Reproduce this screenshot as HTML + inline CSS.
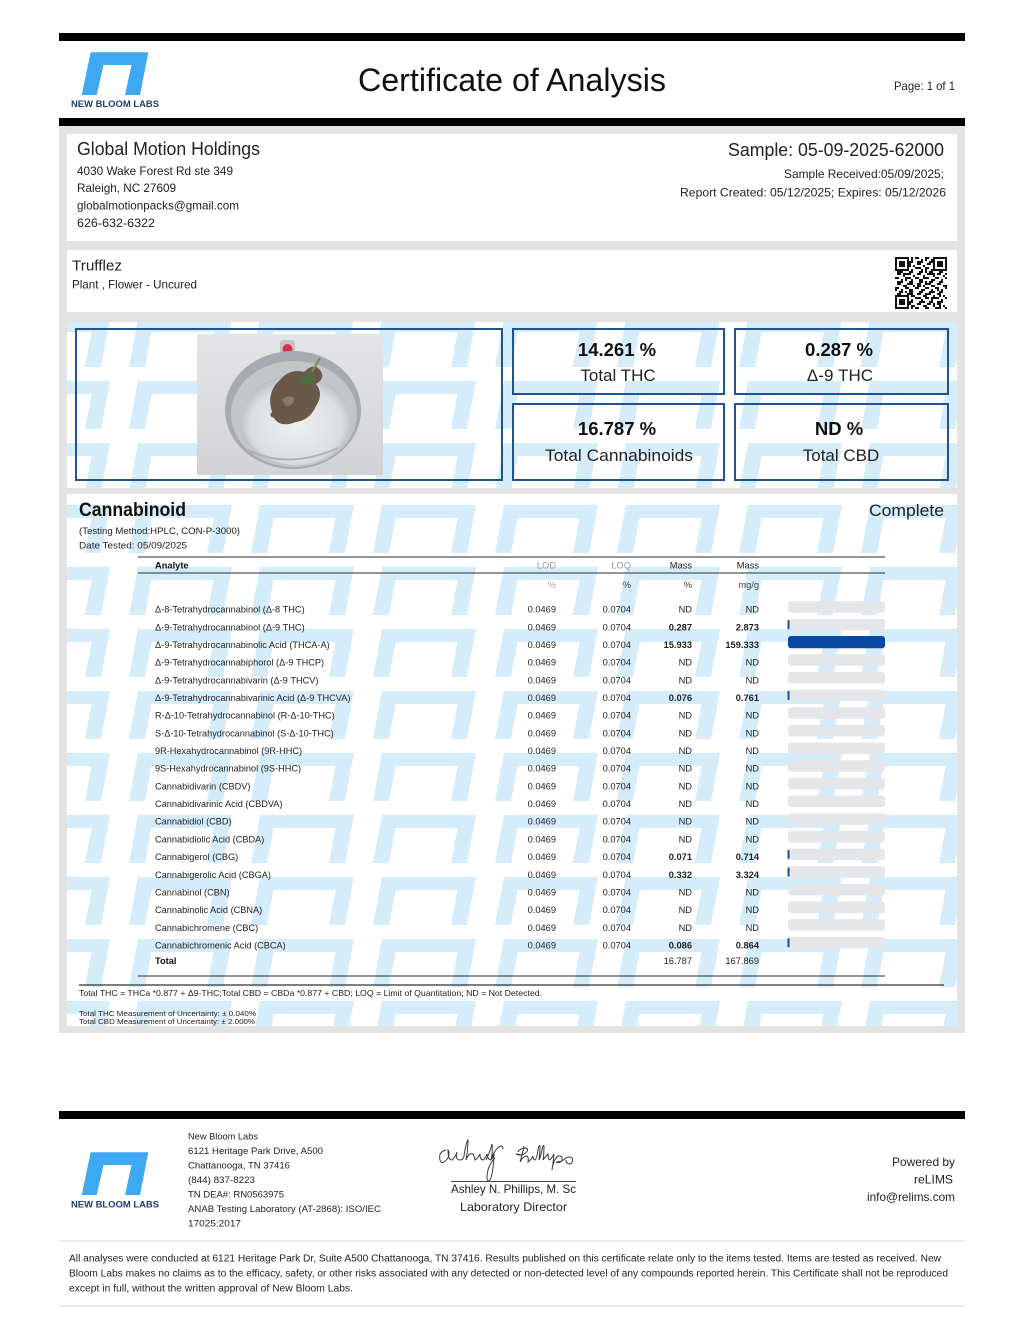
<!DOCTYPE html>
<html><head><meta charset="utf-8"><title>Certificate of Analysis</title>
<style>
html,body{margin:0;padding:0;background:#fff;}
svg{display:block;}
text{font-family:"Liberation Sans","DejaVu Sans",sans-serif;fill:#222;}
.b{font-weight:bold;}
.an{font-size:9.2px;fill:#222;}
.nm{font-size:9.3px;fill:#333;}
.bv{font-size:9.3px;font-weight:bold;fill:#111;}
</style></head>
<body>
<svg width="1024" height="1325" viewBox="0 0 1024 1325" xmlns="http://www.w3.org/2000/svg">
<defs>
<pattern id="pt" width="122" height="62" patternUnits="userSpaceOnUse" x="0" y="5">
<path d="M16 4 L110 4 L101 52 L85 52 L91.6 17 L29.6 17 L23 52 L7 52 Z" fill="#d5ecfa"/>
</pattern>
<pattern id="q1" width="10" height="10" patternUnits="userSpaceOnUse" x="895" y="257">
<rect x="0" y="0" width="4" height="2" fill="#111"/><rect x="6" y="2" width="2" height="4" fill="#111"/><rect x="2" y="6" width="4" height="2" fill="#111"/><rect x="8" y="8" width="2" height="2" fill="#111"/><rect x="4" y="4" width="2" height="2" fill="#111"/>
</pattern>
<pattern id="q2" width="14" height="12" patternUnits="userSpaceOnUse" x="895" y="257">
<rect x="2" y="0" width="2" height="4" fill="#111"/><rect x="8" y="4" width="4" height="2" fill="#111"/><rect x="0" y="8" width="2" height="2" fill="#111"/><rect x="10" y="10" width="2" height="2" fill="#111"/>
</pattern>
<linearGradient id="ph" x1="0" y1="0" x2="0" y2="1"><stop offset="0" stop-color="#e4e5e7"/><stop offset="1" stop-color="#d2d3d5"/></linearGradient>
<radialGradient id="pan" cx="0.5" cy="0.55" r="0.6"><stop offset="0" stop-color="#eef0f1"/><stop offset="0.7" stop-color="#dcdfe1"/><stop offset="1" stop-color="#a9adb1"/></radialGradient>
</defs>

<!-- header -->
<rect x="59" y="33" width="906" height="8" fill="#000"/>
<path d="M90.7 52.3 L148.3 52.3 L140 95 L125 95 L131.5 65 L103.5 65 L96.7 95 L81.7 95 Z" fill="#3ea8f2"/>
<text x="71" y="107" font-size="9.5" font-weight="bold" fill="#1d3d70" style="fill:#1d3d70" textLength="88" lengthAdjust="spacingAndGlyphs">NEW BLOOM LABS</text>
<text x="358" y="91" font-size="32" textLength="308" lengthAdjust="spacingAndGlyphs" style="fill:#111">Certificate of Analysis</text>
<text x="894" y="90" font-size="12" textLength="61" lengthAdjust="spacingAndGlyphs">Page: 1 of 1</text>
<rect x="59" y="118" width="906" height="8" fill="#000"/>

<!-- gray container -->
<rect x="59" y="126" width="906" height="907" fill="#e3e3e3"/>

<!-- card 1 -->
<rect x="67" y="134" width="890" height="107" fill="#fff"/>
<text x="77" y="155" font-size="18" textLength="183" lengthAdjust="spacingAndGlyphs">Global Motion Holdings</text>
<text x="77" y="175" font-size="12" textLength="156" lengthAdjust="spacingAndGlyphs">4030 Wake Forest Rd ste 349</text>
<text x="77" y="192" font-size="12" textLength="99" lengthAdjust="spacingAndGlyphs">Raleigh, NC 27609</text>
<text x="77" y="209.5" font-size="12" textLength="162" lengthAdjust="spacingAndGlyphs">globalmotionpacks@gmail.com</text>
<text x="77" y="227" font-size="12" textLength="78" lengthAdjust="spacingAndGlyphs">626-632-6322</text>
<text x="728" y="156" font-size="18" textLength="216" lengthAdjust="spacingAndGlyphs">Sample: 05-09-2025-62000</text>
<text x="784" y="178" font-size="12" textLength="160" lengthAdjust="spacingAndGlyphs">Sample Received:05/09/2025;</text>
<text x="680" y="196.5" font-size="12" textLength="266" lengthAdjust="spacingAndGlyphs">Report Created: 05/12/2025; Expires: 05/12/2026</text>

<!-- card 2 -->
<rect x="67" y="250" width="890" height="62" fill="#fff"/>
<text x="72" y="270.5" font-size="14.5" textLength="50" lengthAdjust="spacingAndGlyphs">Trufflez</text>
<text x="72" y="288.5" font-size="12" textLength="125" lengthAdjust="spacingAndGlyphs">Plant , Flower - Uncured</text>
<!-- QR -->
<rect x="893" y="255" width="56" height="56" fill="#fff"/>
<rect x="895" y="257" width="52" height="52" fill="url(#q1)"/>
<rect x="895" y="257" width="52" height="52" fill="url(#q2)"/>
<g fill="#111">
<rect x="895" y="257" width="14" height="14"/><rect x="933" y="257" width="14" height="14"/><rect x="895" y="295" width="14" height="14"/>
</g>
<g fill="#fff">
<rect x="897" y="259" width="10" height="10"/><rect x="935" y="259" width="10" height="10"/><rect x="897" y="297" width="10" height="10"/>
</g>
<g fill="#111">
<rect x="899" y="261" width="6" height="6"/><rect x="937" y="261" width="6" height="6"/><rect x="899" y="299" width="6" height="6"/>
</g>

<!-- card 3 -->
<rect x="67" y="322" width="890" height="166" fill="#fff"/>
<rect x="67" y="322" width="890" height="166" fill="url(#pt)"/>
<rect x="76" y="329" width="426" height="151" fill="none" stroke="#22528f" stroke-width="2"/>
<!-- photo -->
<rect x="197" y="334" width="186" height="141" fill="url(#ph)"/>
<rect x="280" y="340" width="15" height="18" rx="3" fill="#c4c5c7"/>
<circle cx="287.5" cy="349" r="5" fill="#e2304c"/>
<ellipse cx="293" cy="410" rx="68" ry="59" fill="#a7abaf"/>
<ellipse cx="294" cy="414" rx="63" ry="53" fill="#c3c6c9"/>
<ellipse cx="296" cy="420" rx="54" ry="45" fill="url(#pan)"/>
<path d="M272 412 q-6 -20 8 -32 q10 -12 24 -8 q10 -10 16 -2 q6 8 -4 14 q8 10 0 22 q-6 14 -20 16 q-16 6 -22 -4 q-6 -2 -2 -6 z" fill="#6a5848"/>
<path d="M298 380 q8 -8 16 -6 q4 4 -2 10 q-8 4 -14 -4 z" fill="#4e6b45"/>
<path d="M282 400 q6 -6 12 -2 q0 8 -8 8 z" fill="#8b7a66"/>
<path d="M312 372 l8 -14" stroke="#6d8f5a" stroke-width="2"/>
<path d="M248 450 q40 20 90 -2" stroke="#b0b3b6" stroke-width="2" fill="none"/>
<!-- summary boxes -->
<g fill="none" stroke="#22528f" stroke-width="2">
<rect x="513" y="329" width="211" height="65"/>
<rect x="735" y="329" width="213" height="65"/>
<rect x="513" y="404" width="211" height="76"/>
<rect x="735" y="404" width="213" height="76"/>
</g>
<g text-anchor="middle">
<text x="617" y="356" font-size="18.5" font-weight="bold" style="fill:#111">14.261 %</text>
<text x="618" y="381" font-size="17">Total THC</text>
<text x="839" y="356" font-size="18.5" font-weight="bold" style="fill:#111">0.287 %</text>
<text x="840" y="381" font-size="17">Δ-9 THC</text>
<text x="617" y="435" font-size="18.5" font-weight="bold" style="fill:#111">16.787 %</text>
<text x="619" y="461" font-size="17" textLength="148" lengthAdjust="spacingAndGlyphs">Total Cannabinoids</text>
<text x="839" y="435" font-size="18.5" font-weight="bold" style="fill:#111">ND %</text>
<text x="841" y="461" font-size="17">Total CBD</text>
</g>

<!-- card 4 -->
<rect x="67" y="494" width="890" height="532" fill="#fff"/>
<rect x="67" y="494" width="890" height="532" fill="url(#pt)"/>
<text x="79" y="516" font-size="19" font-weight="bold" textLength="107" lengthAdjust="spacingAndGlyphs" style="fill:#111">Cannabinoid</text>
<text x="869" y="516" font-size="17" textLength="75" lengthAdjust="spacingAndGlyphs">Complete</text>
<text x="79" y="534" font-size="9.5" textLength="161" lengthAdjust="spacingAndGlyphs">(Testing Method:HPLC, CON-P-3000)</text>
<text x="79" y="548.3" font-size="9.5" textLength="108" lengthAdjust="spacingAndGlyphs">Date Tested: 05/09/2025</text>

<line x1="138" y1="557" x2="885" y2="557" stroke="#555" stroke-width="1.2"/>
<line x1="138" y1="573" x2="885" y2="573" stroke="#555" stroke-width="1.2"/>
<text x="155" y="568.3" font-size="9.3" font-weight="bold" style="fill:#111">Analyte</text>
<g text-anchor="end" font-size="9.3">
<text x="556" y="568.3" style="fill:#9a9a9a">LOD</text>
<text x="631" y="568.3" style="fill:#9a9a9a">LOQ</text>
<text x="692" y="568.3" style="fill:#222">Mass</text>
<text x="759" y="568.3" style="fill:#222">Mass</text>
<text x="556" y="588" style="fill:#aaa">%</text>
<text x="631" y="588" style="fill:#444">%</text>
<text x="692" y="588" style="fill:#444">%</text>
<text x="759" y="588" style="fill:#444">mg/g</text>
</g>

<!-- bars -->
<g fill="#e4e6e9">
<rect x="788" y="601.2" width="97" height="11.5" rx="3"/>
<rect x="788" y="618.9" width="97" height="11.5" rx="3"/>
<rect x="788" y="636.5" width="97" height="11.5" rx="3"/>
<rect x="788" y="654.2" width="97" height="11.5" rx="3"/>
<rect x="788" y="671.9" width="97" height="11.5" rx="3"/>
<rect x="788" y="689.6" width="97" height="11.5" rx="3"/>
<rect x="788" y="707.2" width="97" height="11.5" rx="3"/>
<rect x="788" y="724.9" width="97" height="11.5" rx="3"/>
<rect x="788" y="742.6" width="97" height="11.5" rx="3"/>
<rect x="788" y="760.2" width="97" height="11.5" rx="3"/>
<rect x="788" y="777.9" width="97" height="11.5" rx="3"/>
<rect x="788" y="795.6" width="97" height="11.5" rx="3"/>
<rect x="788" y="813.2" width="97" height="11.5" rx="3"/>
<rect x="788" y="830.9" width="97" height="11.5" rx="3"/>
<rect x="788" y="848.6" width="97" height="11.5" rx="3"/>
<rect x="788" y="866.3" width="97" height="11.5" rx="3"/>
<rect x="788" y="883.9" width="97" height="11.5" rx="3"/>
<rect x="788" y="901.6" width="97" height="11.5" rx="3"/>
<rect x="788" y="919.3" width="97" height="11.5" rx="3"/>
<rect x="788" y="936.9" width="97" height="11.5" rx="3"/>
</g>
<rect x="788" y="636" width="97" height="12.3" rx="3" fill="#0a4aa6"/>
<g fill="#1a4f96">
<rect x="787.5" y="620" width="2" height="9.4" rx="1"/>
<rect x="787.5" y="690.7" width="2" height="9.4" rx="1"/>
<rect x="787.5" y="849.7" width="2" height="9.4" rx="1"/>
<rect x="787.5" y="867.4" width="2" height="9.4" rx="1"/>
<rect x="787.5" y="938" width="2" height="9.4" rx="1"/>
</g>

<!-- rows -->
<g class="an">
<text x="155" y="612.7">Δ-8-Tetrahydrocannabinol (Δ-8 THC)</text>
<text x="155" y="630.4">Δ-9-Tetrahydrocannabinol (Δ-9 THC)</text>
<text x="155" y="648.0">Δ-9-Tetrahydrocannabinolic Acid (THCA-A)</text>
<text x="155" y="665.7">Δ-9-Tetrahydrocannabiphorol (Δ-9 THCP)</text>
<text x="155" y="683.4">Δ-9-Tetrahydrocannabivarin (Δ-9 THCV)</text>
<text x="155" y="701.1">Δ-9-Tetrahydrocannabivarinic Acid (Δ-9 THCVA)</text>
<text x="155" y="718.7">R-Δ-10-Tetrahydrocannabinol (R-Δ-10-THC)</text>
<text x="155" y="736.4">S-Δ-10-Tetrahydrocannabinol (S-Δ-10-THC)</text>
<text x="155" y="754.1">9R-Hexahydrocannabinol (9R-HHC)</text>
<text x="155" y="771.7">9S-Hexahydrocannabinol (9S-HHC)</text>
<text x="155" y="789.4">Cannabidivarin (CBDV)</text>
<text x="155" y="807.1">Cannabidivarinic Acid (CBDVA)</text>
<text x="155" y="824.7">Cannabidiol (CBD)</text>
<text x="155" y="842.4">Cannabidiolic Acid (CBDA)</text>
<text x="155" y="860.1">Cannabigerol (CBG)</text>
<text x="155" y="877.8">Cannabigerolic Acid (CBGA)</text>
<text x="155" y="895.4">Cannabinol (CBN)</text>
<text x="155" y="913.1">Cannabinolic Acid (CBNA)</text>
<text x="155" y="930.8">Cannabichromene (CBC)</text>
<text x="155" y="948.4">Cannabichromenic Acid (CBCA)</text>
</g>
<text x="155" y="964" font-size="9.3" font-weight="bold" style="fill:#111">Total</text>

<g class="nm" text-anchor="end">
<text x="556" y="612.7">0.0469</text><text x="631" y="612.7">0.0704</text>
<text x="556" y="630.4">0.0469</text><text x="631" y="630.4">0.0704</text>
<text x="556" y="648.0">0.0469</text><text x="631" y="648.0">0.0704</text>
<text x="556" y="665.7">0.0469</text><text x="631" y="665.7">0.0704</text>
<text x="556" y="683.4">0.0469</text><text x="631" y="683.4">0.0704</text>
<text x="556" y="701.1">0.0469</text><text x="631" y="701.1">0.0704</text>
<text x="556" y="718.7">0.0469</text><text x="631" y="718.7">0.0704</text>
<text x="556" y="736.4">0.0469</text><text x="631" y="736.4">0.0704</text>
<text x="556" y="754.1">0.0469</text><text x="631" y="754.1">0.0704</text>
<text x="556" y="771.7">0.0469</text><text x="631" y="771.7">0.0704</text>
<text x="556" y="789.4">0.0469</text><text x="631" y="789.4">0.0704</text>
<text x="556" y="807.1">0.0469</text><text x="631" y="807.1">0.0704</text>
<text x="556" y="824.7">0.0469</text><text x="631" y="824.7">0.0704</text>
<text x="556" y="842.4">0.0469</text><text x="631" y="842.4">0.0704</text>
<text x="556" y="860.1">0.0469</text><text x="631" y="860.1">0.0704</text>
<text x="556" y="877.8">0.0469</text><text x="631" y="877.8">0.0704</text>
<text x="556" y="895.4">0.0469</text><text x="631" y="895.4">0.0704</text>
<text x="556" y="913.1">0.0469</text><text x="631" y="913.1">0.0704</text>
<text x="556" y="930.8">0.0469</text><text x="631" y="930.8">0.0704</text>
<text x="556" y="948.4">0.0469</text><text x="631" y="948.4">0.0704</text>
<text x="692" y="612.7">ND</text><text x="759" y="612.7">ND</text>
<text x="692" y="665.7">ND</text><text x="759" y="665.7">ND</text>
<text x="692" y="683.4">ND</text><text x="759" y="683.4">ND</text>
<text x="692" y="718.7">ND</text><text x="759" y="718.7">ND</text>
<text x="692" y="736.4">ND</text><text x="759" y="736.4">ND</text>
<text x="692" y="754.1">ND</text><text x="759" y="754.1">ND</text>
<text x="692" y="771.7">ND</text><text x="759" y="771.7">ND</text>
<text x="692" y="789.4">ND</text><text x="759" y="789.4">ND</text>
<text x="692" y="807.1">ND</text><text x="759" y="807.1">ND</text>
<text x="692" y="824.7">ND</text><text x="759" y="824.7">ND</text>
<text x="692" y="842.4">ND</text><text x="759" y="842.4">ND</text>
<text x="692" y="895.4">ND</text><text x="759" y="895.4">ND</text>
<text x="692" y="913.1">ND</text><text x="759" y="913.1">ND</text>
<text x="692" y="930.8">ND</text><text x="759" y="930.8">ND</text>
<text x="692" y="964">16.787</text><text x="759" y="964">167.869</text>
</g>
<g class="bv" text-anchor="end">
<text x="692" y="630.4">0.287</text><text x="759" y="630.4">2.873</text>
<text x="692" y="648.0">15.933</text><text x="759" y="648.0">159.333</text>
<text x="692" y="701.1">0.076</text><text x="759" y="701.1">0.761</text>
<text x="692" y="860.1">0.071</text><text x="759" y="860.1">0.714</text>
<text x="692" y="877.8">0.332</text><text x="759" y="877.8">3.324</text>
<text x="692" y="948.4">0.086</text><text x="759" y="948.4">0.864</text>
</g>

<line x1="138" y1="976" x2="885" y2="976" stroke="#555" stroke-width="1.2"/>
<line x1="79" y1="985" x2="944" y2="985" stroke="#333" stroke-width="1.2"/>
<text x="79" y="996" font-size="8.5" textLength="463" lengthAdjust="spacingAndGlyphs">Total THC = THCa *0.877 + Δ9-THC;Total CBD = CBDa *0.877 + CBD; LOQ = Limit of Quantitation; ND = Not Detected.</text>
<text x="79" y="1016" font-size="7.4" textLength="177" lengthAdjust="spacingAndGlyphs">Total THC Measurement of Uncertainty: ± 0.040%</text>
<text x="79" y="1024" font-size="7.4" textLength="176" lengthAdjust="spacingAndGlyphs">Total CBD Measurement of Uncertainty: ± 2.000%</text>

<!-- footer -->
<rect x="59" y="1111" width="906" height="8" fill="#000"/>
<path d="M90.7 1152.3 L148.3 1152.3 L140 1195 L125 1195 L131.5 1165 L103.5 1165 L96.7 1195 L81.7 1195 Z" fill="#3ea8f2"/>
<text x="71" y="1207.5" font-size="9.5" font-weight="bold" style="fill:#1d3d70" textLength="88" lengthAdjust="spacingAndGlyphs">NEW BLOOM LABS</text>
<g font-size="9.6">
<text x="188" y="1139.5" textLength="70" lengthAdjust="spacingAndGlyphs">New Bloom Labs</text>
<text x="188" y="1154" textLength="135" lengthAdjust="spacingAndGlyphs">6121 Heritage Park Drive, A500</text>
<text x="188" y="1168.5" textLength="102" lengthAdjust="spacingAndGlyphs">Chattanooga, TN 37416</text>
<text x="188" y="1183" textLength="67" lengthAdjust="spacingAndGlyphs">(844) 837-8223</text>
<text x="188" y="1197.5" textLength="96" lengthAdjust="spacingAndGlyphs">TN DEA#: RN0563975</text>
<text x="188" y="1212" textLength="193" lengthAdjust="spacingAndGlyphs">ANAB Testing Laboratory (AT-2868): ISO/IEC</text>
<text x="188" y="1226.5" textLength="53" lengthAdjust="spacingAndGlyphs">17025:2017</text>
</g>
<path d="M446 1150 q-8 2 -6 10 q2 6 8 -2 q2 -6 0 -8 q0 10 4 10 q3 -2 5 -8 q-2 8 3 8 q3 0 4 -4 q2 -14 4 -16 q0 10 -2 20 q3 -8 7 -6 q2 4 2 6 q3 -2 5 -6 q0 6 3 6 q3 -2 4 -6 q1 6 4 6 q2 -2 3 -6 q0 12 -3 24 q-3 6 -4 0 q0 -12 8 -20 M486 1160 q4 -8 6 -16 q1 8 -1 16 q4 -12 10 -14 q2 0 2 3 M518 1152 q2 -4 8 -4 q4 2 -2 6 q-4 2 -8 0 q4 0 6 2 M524 1146 q-2 10 -4 16 q3 -6 7 -6 q2 2 1 6 q3 -2 5 -6 q0 4 2 4 q2 -2 3 -10 q1 -6 2 -4 q0 8 -1 14 q2 -4 3 -10 q1 -6 2 -4 q0 8 -1 14 q3 -4 5 -6 q0 6 2 6 q3 -4 4 -6 q-1 10 -2 16 q1 -10 6 -14 q5 -1 4 4 q-2 4 -6 2 q6 0 10 -4 q4 -2 6 0 q2 4 -2 6 q-4 0 -4 -4" fill="none" stroke="#3a3a3a" stroke-width="1"/>
<line x1="451" y1="1181.5" x2="576" y2="1181.5" stroke="#444" stroke-width="1"/>
<text x="513.5" y="1193" font-size="12" text-anchor="middle" textLength="125" lengthAdjust="spacingAndGlyphs">Ashley N. Phillips, M. Sc</text>
<text x="513.5" y="1211" font-size="12" text-anchor="middle" textLength="107" lengthAdjust="spacingAndGlyphs">Laboratory Director</text>
<g font-size="12" text-anchor="end">
<text x="955" y="1166" textLength="63" lengthAdjust="spacingAndGlyphs">Powered by</text>
<text x="953" y="1183.5" textLength="39" lengthAdjust="spacingAndGlyphs">reLIMS</text>
<text x="955" y="1201" textLength="88" lengthAdjust="spacingAndGlyphs">info@relims.com</text>
</g>
<rect x="59" y="1240" width="906" height="2" fill="#e8eaeb"/>
<g font-size="9.8">
<text x="69" y="1261.5" textLength="872" lengthAdjust="spacingAndGlyphs">All analyses were conducted at 6121 Heritage Park Dr, Suite A500 Chattanooga, TN 37416. Results published on this certificate relate only to the items tested. Items are tested as received. New</text>
<text x="69" y="1276.5" textLength="879" lengthAdjust="spacingAndGlyphs">Bloom Labs makes no claims as to the efficacy, safety, or other risks associated with any detected or non-detected level of any compounds reported herein. This Certificate shall not be reproduced</text>
<text x="69" y="1291.5" textLength="284" lengthAdjust="spacingAndGlyphs">except in full, without the written approval of New Bloom Labs.</text>
</g>
<rect x="59" y="1305" width="906" height="2" fill="#e8eaeb"/>
</svg>
</body></html>
